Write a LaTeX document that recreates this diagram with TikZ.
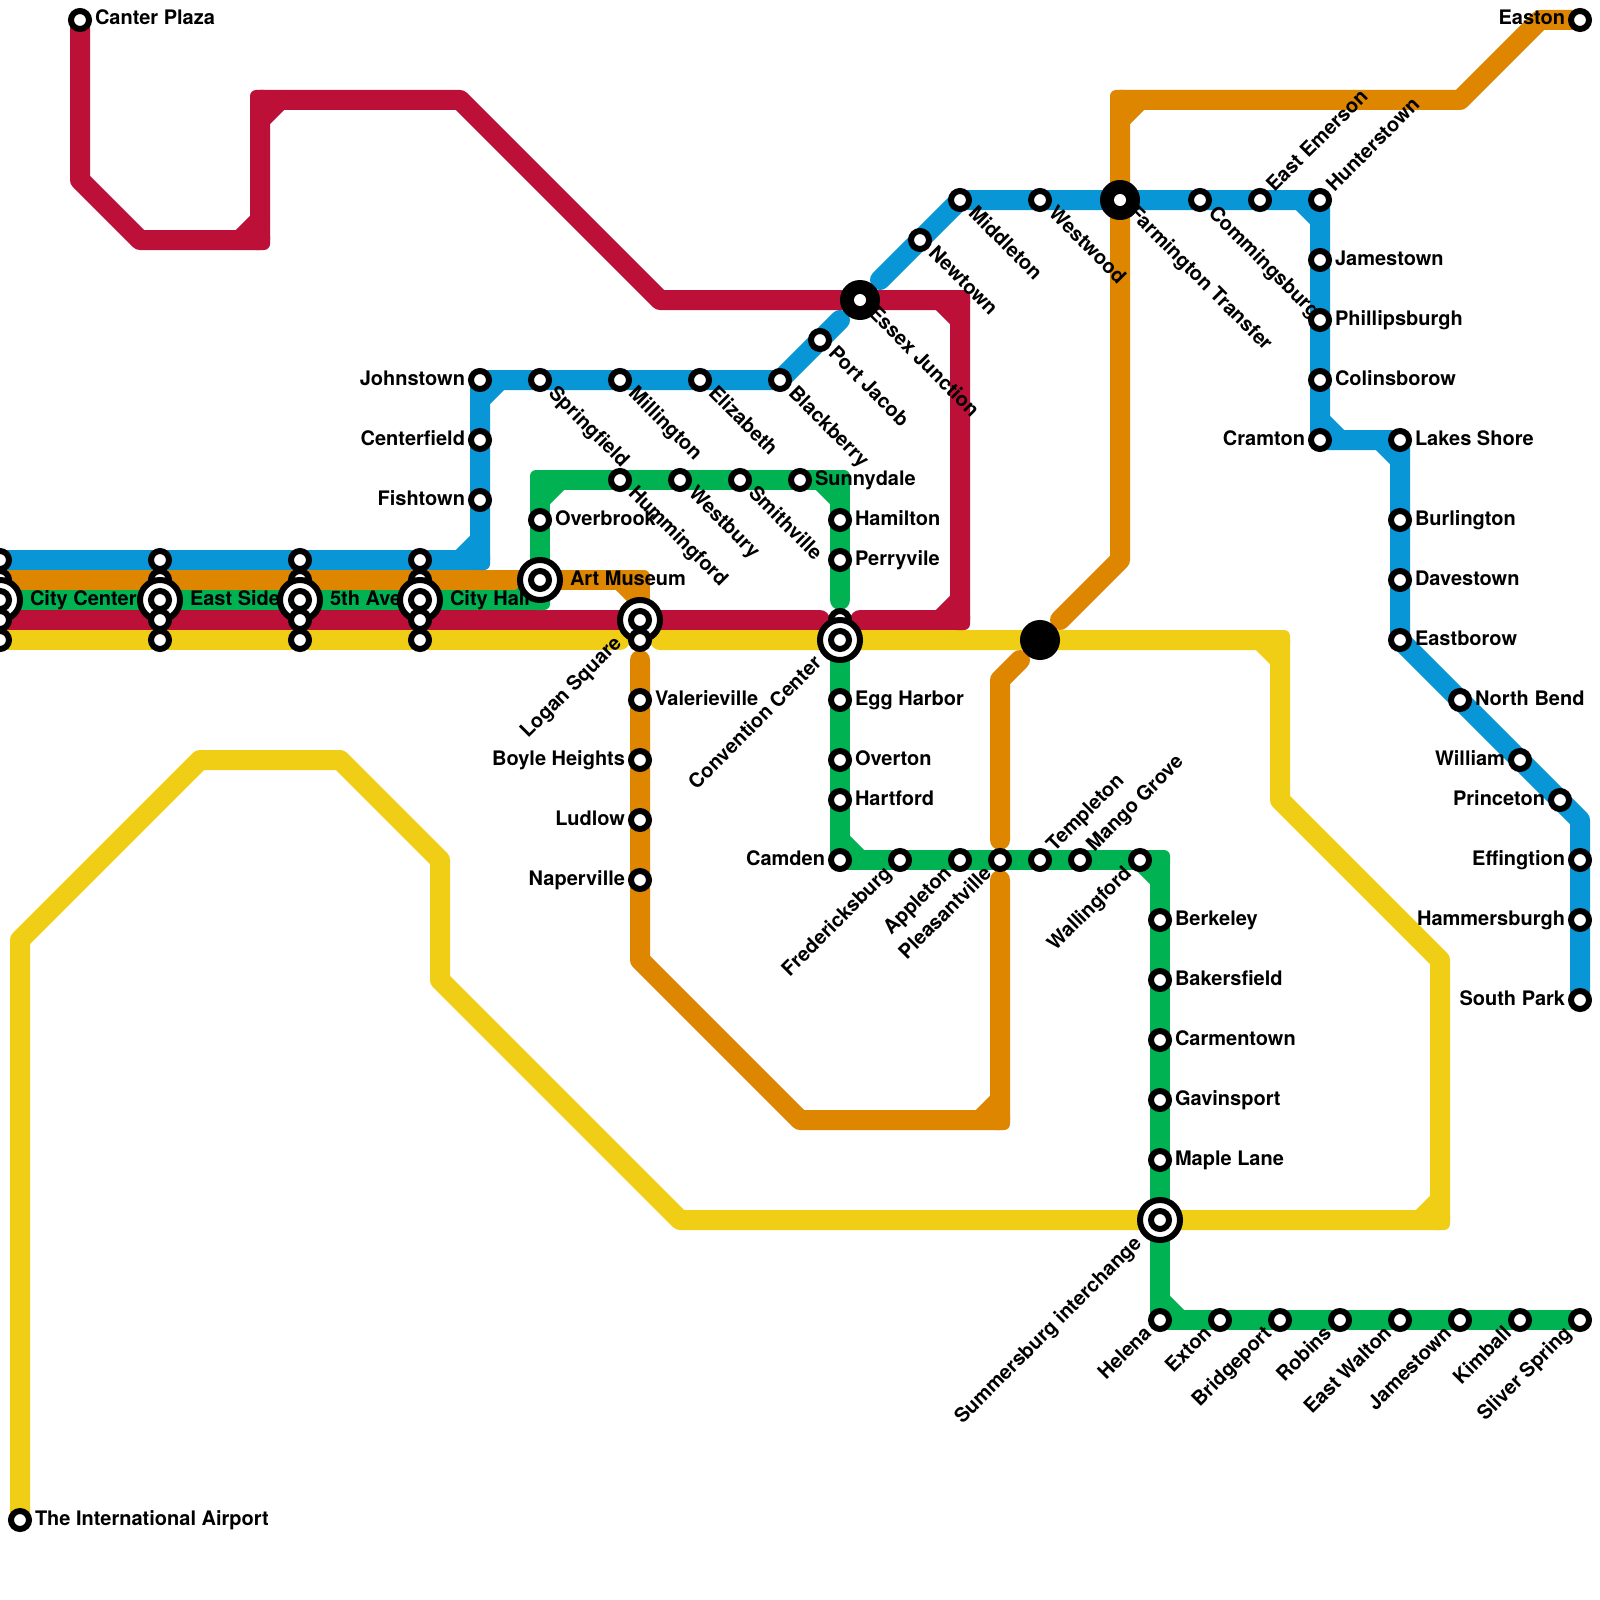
\documentclass[tikz,border=0pt]{standalone}
\usepackage{fontspec}
\setmainfont{TeX Gyre Heros}
\usetikzlibrary{calc}
\definecolor{lblue}{HTML}{0896D7}
\definecolor{lorange}{HTML}{DF8600}
\definecolor{lgreen}{HTML}{00B251}
\definecolor{lred}{HTML}{BD1038}
\definecolor{lyellow}{HTML}{F0CE15}
\tikzset{
  trk/.style={line width=10pt,line cap=round,line join=round},
  lbl/.style={inner sep=0pt,outer sep=0pt,text=black,font=\fontsize{10}{12}\selectfont\bfseries},
  lblR/.style={lbl,xshift=7.5pt,yshift=-2.5pt,anchor=base west},
  lblB/.style={lbl,xshift=15pt,yshift=-2.5pt,anchor=base west},
  lblL/.style={lbl,xshift=-7.5pt,yshift=-2.5pt,anchor=base east},
  lblDR/.style={lbl,xshift=3.75pt,yshift=-7.25pt,rotate=-45,anchor=base west},
  lblUR/.style={lbl,xshift=7.25pt,yshift=3.75pt,rotate=45,anchor=base west},
  lblDL/.style={lbl,xshift=-3.75pt,yshift=-7.25pt,rotate=45,anchor=base east},
  lblDLB/.style={lbl,xshift=-8.7pt,yshift=-12.2pt,rotate=45,anchor=base east},
  stn/.style={circle,draw=black,fill=white,line width=3pt,minimum size=9pt,inner sep=0pt,outer sep=0pt},
  bigstn/.style={circle,draw=black,fill=white,line width=3pt,minimum size=20pt,inner sep=0pt,outer sep=0pt},
  hub/.style={circle,fill=black,minimum size=20pt,inner sep=0pt,outer sep=0pt},
  hubhole/.style={circle,fill=white,minimum size=6pt,inner sep=0pt,outer sep=0pt},
}
\begin{document}
\begin{tikzpicture}[x=0.5pt,y=-0.5pt]
\useasboundingbox (0,0) rectangle (1600,1600);
\fill[white] (0,0) rectangle (1600,1600);
\clip (0,0) rectangle (1600,1600);
% coordinates: interchange columns
\foreach \i/\a in {cc/0,es/160,av/300,ch/420}{
  \coordinate (\i b) at (\a,560);
  \coordinate (\i o) at (\a,580);
  \coordinate (\i g) at (\a,600);
  \coordinate (\i r) at (\a,620);
  \coordinate (\i y) at (\a,640);
}
% coordinates: stations
\foreach \n/\a/\b in {canter/80/20,johnstown/480/380,centerfield/480/440,fishtown/480/500,springfield/540/380,millington/620/380,elizabeth/700/380,blackberry/780/380,portjacob/820/340,essex/860/300,newtown/920/240,middleton/960/200,westwood/1040/200,farmington/1120/200,commingsburg/1200/200,eastemerson/1260/200,hunterstown/1320/200,jamestownA/1320/260,phillipsburgh/1320/320,colinsborow/1320/380,cramton/1320/440,lakesshore/1400/440,burlington/1400/520,davestown/1400/580,eastborow/1400/640,northbend/1460/700,william/1520/760,princeton/1560/800,effingtion/1580/860,hammersburgh/1580/920,southpark/1580/1000,overbrook/540/520,artmuseum/540/580,hummingford/620/480,westbury/680/480,smithville/740/480,sunnydale/800/480,hamilton/840/520,perryvile/840/560,convA/840/620,conv/840/640,eggharbor/840/700,overton/840/760,hartford/840/800,camden/840/860,fredericksburg/900/860,appleton/960/860,pleasantville/1000/860,templeton/1040/860,mangogrove/1080/860,wallingford/1140/860,berkeley/1160/920,bakersfield/1160/980,carmentown/1160/1040,gavinsport/1160/1100,maplelane/1160/1160,summersburg/1160/1220,helena/1160/1320,exton/1220/1320,bridgeport/1280/1320,robins/1340/1320,eastwalton/1400/1320,jamestownB/1460/1320,kimball/1520/1320,sliverspring/1580/1320,logan/640/620,loganB/640/640,valerieville/640/700,boyleheights/640/760,ludlow/640/820,naperville/640/880,easton/1580/20,airport/20/1520,junction/1040/640}{
  \coordinate (\n) at (\a,\b);
}
% coordinates: bends and line ends
\foreach \n/\a/\b in {r1/80/180,r2/140/240,r3/260/240,r4/260/100,r5/460/100,r6/660/300,r7/960/300,r8/960/620,r9/860/620,r10/820/620,
  b1/480/560,b2/840/320,b3/880/280,b4/1320/440,b5/1400/640,b6/1580/820,
  o1/640/580,o2/640/660,o3/640/960,o4/800/1120,o5/1000/1120,o6/1000/880,o7/1000/840,o8/1000/680,o9/1020/660,o10/1060/620,o11/1120/560,o12/1120/100,o13/1460/100,o14/1540/20,
  g1/540/600,g2/540/480,g3/840/480,g4/840/600,g5/1160/860,
  y1/620/640,y2/660/640,y3/1280/640,y4/1280/800,y5/1440/960,y6/1440/1220,y7/680/1220,y8/440/980,y9/440/860,y10/340/760,y11/200/760,y12/20/940}{
  \coordinate (\n) at (\a,\b);
}
% lines
\draw[trk,draw=lblue] (ccb)--(esb)--(avb)--(chb)--(b1)--(fishtown)--(johnstown)--(blackberry)--(b2);
\draw[trk,draw=lblue] (b3)--(middleton)--(hunterstown)--(b4)--(lakesshore)--(b5)--(b6)--(southpark);
\draw[trk,draw=lorange] (cco)--(eso)--(avo)--(cho)--(o1)--(logan);
\draw[trk,draw=lorange] (o2)--(o3)--(o4)--(o5)--(o6);
\draw[trk,draw=lorange] (o7)--(o8)--(o9);
\draw[trk,draw=lorange] (o10)--(o11)--(o12)--(o13)--(o14)--(easton);
\draw[trk,draw=lgreen] (ccg)--(esg)--(avg)--(chg)--(g1)--(g2)--(g3)--(g4);
\draw[trk,draw=lgreen] (conv)--(camden)--(g5)--(helena)--(sliverspring);
\draw[trk,draw=lred] (canter)--(r1)--(r2)--(r3)--(r4)--(r5)--(r6)--(r7)--(r8)--(r9);
\draw[trk,draw=lred] (ccr)--(esr)--(avr)--(chr)--(logan)--(r10);
\draw[trk,draw=lyellow] (ccy)--(esy)--(avy)--(chy)--(y1);
\draw[trk,draw=lyellow] (y2)--(junction)--(y3)--(y4)--(y5)--(y6)--(y7)--(y8)--(y9)--(y10)--(y11)--(y12)--(airport);
% right-angle corners: tighter outer corner and inner chamfer
\foreach \colr/\cnr/\ax/\ay/\bx/\by in {
  lred/r4/0/20/20/0,lred/r3/0/-20/-20/0,lred/r7/-20/0/0/20,lred/r8/0/-20/-20/0,
  lorange/o1/-20/0/0/20,lorange/o12/0/20/20/0,lorange/o5/0/-20/-20/0,
  lblue/b1/-20/0/0/-20,lblue/johnstown/0/20/20/0,lblue/hunterstown/-20/0/0/20,lblue/cramton/0/-20/20/0,lblue/lakesshore/-20/0/0/20,
  lgreen/g1/-20/0/0/-20,lgreen/g2/0/20/20/0,lgreen/g3/-20/0/0/20,lgreen/camden/0/-20/20/0,lgreen/g5/-20/0/0/20,lgreen/helena/0/-20/20/0,
  lyellow/y3/-20/0/0/20,lyellow/y6/0/-20/-20/0}{
  \draw[trk,draw=\colr] ($(\cnr)+(\ax,\ay)$)--($(\cnr)+(\bx,\by)$);
  \fill[\colr,rounded corners=3pt] ($(\cnr)+(-10,-10)$) rectangle ($(\cnr)+(10,10)$);
}
% labels
\foreach \id/\txt in {canter/Canter Plaza,sunnydale/Sunnydale,hamilton/Hamilton,perryvile/Perryvile,overbrook/Overbrook,valerieville/Valerieville,eggharbor/Egg Harbor,overton/Overton,hartford/Hartford,berkeley/Berkeley,bakersfield/Bakersfield,carmentown/Carmentown,gavinsport/Gavinsport,maplelane/Maple Lane,jamestownA/Jamestown,phillipsburgh/Phillipsburgh,colinsborow/Colinsborow,lakesshore/Lakes Shore,burlington/Burlington,davestown/Davestown,eastborow/Eastborow,northbend/North Bend,airport/The International Airport}{
  \node[lblR] (l\id) at (\id) {\txt};
}
\foreach \id/\txt in {artmuseum/Art Museum,ccg/City Center,esg/East Side,avg/5th Ave,chg/City Hall}{
  \node[lblB] (l\id) at (\id) {\txt};
}
\foreach \id/\txt in {johnstown/Johnstown,centerfield/Centerfield,fishtown/Fishtown,boyleheights/Boyle Heights,ludlow/Ludlow,naperville/Naperville,camden/Camden,cramton/Cramton,william/William,princeton/Princeton,effingtion/Effingtion,hammersburgh/Hammersburgh,southpark/South Park,easton/Easton}{
  \node[lblL] (l\id) at (\id) {\txt};
}
\foreach \id/\txt in {springfield/Springfield,millington/Millington,elizabeth/Elizabeth,blackberry/Blackberry,hummingford/Hummingford,westbury/Westbury,smithville/Smithville,portjacob/Port Jacob,newtown/Newtown,essex/Essex Junction,middleton/Middleton,westwood/Westwood,farmington/Farmington Transfer,commingsburg/Commingsburg}{
  \node[lblDR] (l\id) at (\id) {\txt};
}
\foreach \id/\txt in {templeton/Templeton,mangogrove/Mango Grove,eastemerson/East Emerson,hunterstown/Hunterstown}{
  \node[lblUR] (l\id) at (\id) {\txt};
}
\foreach \id/\txt in {fredericksburg/Fredericksburg,appleton/Appleton,pleasantville/Pleasantville,wallingford/Wallingford,helena/Helena,exton/Exton,bridgeport/Bridgeport,robins/Robins,eastwalton/East Walton,jamestownB/Jamestown,kimball/Kimball,sliverspring/Sliver Spring}{
  \node[lblDL] (l\id) at (\id) {\txt};
}
\foreach \id/\txt in {logan/Logan Square,conv/Convention Center,summersburg/Summersburg interchange}{
  \node[lblDLB] (l\id) at (\id) {\txt};
}
% stations
\foreach \id in {canter,johnstown,centerfield,fishtown,springfield,millington,elizabeth,blackberry,portjacob,newtown,middleton,westwood,commingsburg,eastemerson,hunterstown,jamestownA,phillipsburgh,colinsborow,cramton,lakesshore,burlington,davestown,eastborow,northbend,william,princeton,effingtion,hammersburgh,southpark,overbrook,hummingford,westbury,smithville,sunnydale,hamilton,perryvile,convA,eggharbor,overton,hartford,camden,fredericksburg,appleton,pleasantville,templeton,mangogrove,wallingford,berkeley,bakersfield,carmentown,gavinsport,maplelane,helena,exton,bridgeport,robins,eastwalton,jamestownB,kimball,sliverspring,valerieville,boyleheights,ludlow,naperville,easton,airport}{
  \node[stn] (s\id) at (\id) {};
}
\foreach \i in {cc,es,av,ch}{
  \node[stn] (s\i b) at (\i b) {};
  \node[stn] (s\i o) at (\i o) {};
  \node[bigstn] (ring\i) at (\i g) {};
  \node[stn] (s\i g) at (\i g) {};
  \node[stn] (s\i r) at (\i r) {};
  \node[stn] (s\i y) at (\i y) {};
}
\foreach \id in {artmuseum,logan,conv,summersburg}{
  \node[bigstn] (ring\id) at (\id) {};
  \node[stn] (s\id) at (\id) {};
}
\node[stn] (sloganB) at (loganB) {};
\foreach \id in {essex,farmington}{
  \node[hub] (hub\id) at (\id) {};
  \node[hubhole] (hole\id) at (\id) {};
}
\node[hub] (hubjunction) at (junction) {};
\end{tikzpicture}
\end{document}
